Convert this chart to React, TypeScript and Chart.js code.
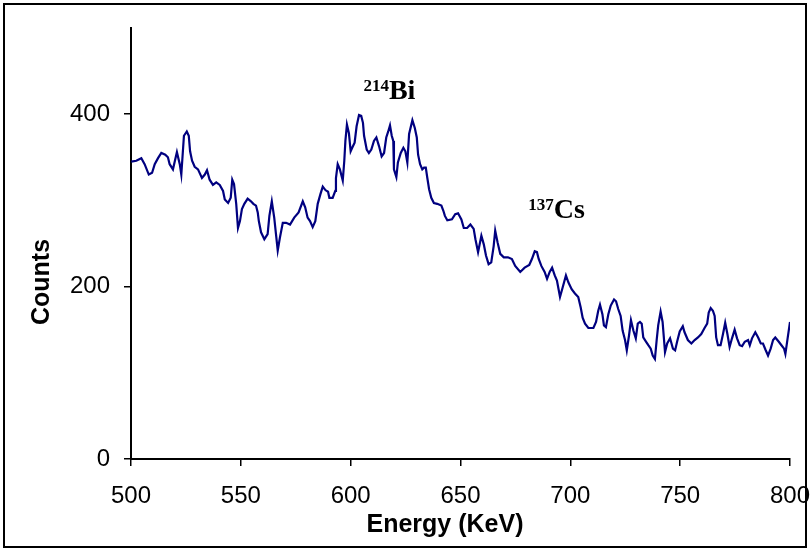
import { useEffect, useRef } from "react";
import { Chart, registerables } from "chart.js";

Chart.register(...registerables);

// Gamma spectrum: energy (keV) and counts per channel
const energies = [
  500.1, 502.4, 504.7, 506.2, 508.1, 509.6, 510.8, 512.3, 513.8, 515.6,
  516.8, 517.6, 519.1, 520.9, 522.2, 522.9, 524.1, 525.4, 526.3, 526.9,
  527.8, 529.0, 530.5, 532.3, 533.6, 534.6, 535.8, 537.3, 538.8, 540.4,
  541.9, 542.7, 544.2, 545.4, 546.1, 546.9, 547.9, 548.7, 549.6, 550.5,
  551.6, 553.1, 554.6, 555.7, 556.9, 557.7, 558.2, 559.2, 560.7, 562.2,
  563.0, 564.1, 565.2, 566.0, 566.8, 567.8, 569.1, 570.6, 572.4, 574.3,
  576.3, 578.2, 579.3, 580.4, 581.5, 582.7, 583.9, 585.0, 586.2, 587.3,
  588.5, 589.7, 590.3, 591.8, 593.0, 593.3, 594.1, 595.1, 596.4, 597.1,
  597.6, 598.3, 599.2, 600.0, 600.7, 601.8, 602.7, 603.8, 604.8, 605.6,
  606.1, 607.3, 608.3, 609.4, 610.6, 611.7, 612.9, 614.1, 615.2, 616.2,
  617.1, 617.9, 618.7, 619.4, 619.7, 620.8, 621.5, 622.8, 624.0, 624.9,
  625.8, 626.6, 628.1, 629.2, 630.1, 630.7, 631.6, 632.6, 633.4, 634.2,
  634.9, 635.7, 636.7, 637.9, 639.4, 641.3, 642.2, 642.9, 644.0, 646.1,
  647.6, 648.9, 650.4, 651.5, 653.0, 654.5, 656.0, 656.8, 658.0, 659.5,
  660.6, 661.6, 662.8, 664.0, 665.1, 665.8, 666.9, 668.1, 669.7, 671.6,
  673.4, 674.9, 677.2, 679.2, 681.3, 682.5, 683.8, 684.8, 685.6, 686.8,
  688.3, 689.4, 690.6, 691.7, 692.9, 693.9, 695.3, 696.5, 698.0, 699.1,
  700.6, 702.1, 703.6, 704.7, 705.6, 706.7, 708.2, 710.5, 711.7, 712.7,
  713.5, 714.6, 715.3, 716.2, 717.3, 718.4, 719.9, 720.8, 721.8, 722.9,
  723.8, 724.9, 725.7, 726.7, 727.6, 728.7, 729.8, 730.7, 731.7, 732.5,
  733.2, 734.5, 735.5, 736.6, 737.5, 738.5, 739.3, 740.0, 741.1, 742.0,
  743.1, 744.1, 745.4, 746.7, 747.7, 748.6, 749.8, 751.2, 752.0, 753.5,
  755.1, 756.6, 758.1, 759.6, 761.1, 762.3, 763.0, 763.9, 764.9, 765.7,
  766.4, 767.2, 768.4, 769.5, 770.5, 771.5, 772.5, 773.6, 774.8, 775.9,
  777.1, 778.2, 779.4, 780.9, 781.7, 782.7, 784.2, 785.5, 786.7, 787.7,
  788.8, 790.0, 791.2, 792.3, 793.3, 794.9, 796.1, 797.3, 797.9, 798.8,
  800.0,
];

const counts = [
  345, 346, 349, 342, 330, 332, 342, 349, 355, 353,
  350, 342, 336, 356, 342, 330, 375, 380, 375, 357,
  346, 339, 336, 326, 330, 335, 324, 318, 321, 318,
  311, 301, 297, 303, 324, 319, 296, 268, 276, 290,
  296, 302, 299, 296, 294, 286, 276, 263, 255, 261,
  282, 299, 280, 261, 242, 257, 274, 274, 272, 280,
  286, 299, 292, 280, 276, 269, 276, 296, 307, 316,
  312, 310, 303, 303, 311, 326, 342, 336, 323, 346,
  369, 388, 378, 357, 361, 367, 386, 399, 398, 390,
  375, 359, 355, 359, 369, 373, 363, 351, 355, 373,
  380, 387, 375, 369, 336, 327, 344, 355, 361, 357,
  344, 377, 393, 384, 373, 353, 342, 336, 338, 338,
  326, 313, 303, 297, 296, 294, 288, 282, 277, 278,
  284, 285, 278, 268, 268, 272, 267, 255, 240, 259,
  249, 236, 226, 228, 247, 265, 251, 238, 234, 234,
  232, 224, 217, 222, 225, 232, 241, 240, 232, 224,
  217, 209, 217, 222, 213, 207, 188, 199, 213, 205,
  197, 192, 188, 176, 164, 157, 152, 152, 159, 172,
  179, 168, 155, 153, 168, 178, 185, 183, 174, 166,
  149, 138, 126, 143, 161, 149, 140, 157, 159, 157,
  141, 136, 132, 128, 120, 116, 138, 155, 171, 159,
  124, 134, 140, 128, 126, 136, 148, 154, 147, 138,
  134, 138, 141, 145, 152, 157, 170, 175, 172, 166,
  141, 132, 132, 145, 158, 145, 130, 140, 150, 140,
  132, 131, 136, 138, 132, 140, 147, 141, 134, 134,
  127, 120, 128, 138, 141, 136, 132, 128, 122, 138,
  159,
];

const xTickValues = [500, 550, 600, 650, 700, 750, 800];
const yTickValues = [0, 200, 400];

const xTitle = "Energy (KeV)";
const yTitle = "Counts";

// Peak labels: mass number, element symbol, anchor (energy, counts)
const peakMass = ["214", "137"];
const peakSymbol = ["Bi", "Cs"];
const peakEnergy = [617.4, 692.5];
const peakCounts = [418, 280];

const SANS = '"Liberation Sans", Arial, sans-serif';
const SERIF = '"Liberation Serif", "Times New Roman", serif';

const frame = {
  id: "frame",
  afterDraw(chart: any) {
    const ctx = chart.ctx;
    ctx.save();
    ctx.strokeStyle = "#000";
    ctx.lineWidth = 2;
    ctx.strokeRect(4, 4, 802, 543);
    ctx.restore();
  },
};

// Axis titles, placed relative to the plot area
const axisTitles = {
  id: "axisTitles",
  afterDraw(chart: any) {
    const ctx = chart.ctx;
    const area = chart.chartArea;
    ctx.save();
    ctx.fillStyle = "#000";
    ctx.font = `bold 25px ${SANS}`;
    ctx.textAlign = "center";
    ctx.textBaseline = "middle";
    ctx.fillText(xTitle, area.left + 314, area.bottom + 66);
    ctx.translate(area.left - 89, area.bottom - 177);
    ctx.rotate(-Math.PI / 2);
    ctx.fillText(yTitle, 0, 0);
    ctx.restore();
  },
};

const peakNames = {
  id: "peakNames",
  afterDatasetsDraw(chart: any) {
    const ctx = chart.ctx;
    const xs = chart.scales.x;
    const ys = chart.scales.y;
    ctx.save();
    ctx.fillStyle = "#000";
    ctx.textBaseline = "alphabetic";
    peakMass.forEach((mass, i) => {
      const px = xs.getPixelForValue(peakEnergy[i]);
      const py = ys.getPixelForValue(peakCounts[i]);
      ctx.font = `bold 17px ${SERIF}`;
      ctx.textAlign = "right";
      ctx.fillText(mass, px, py - 8);
      ctx.font = `bold 28px ${SERIF}`;
      ctx.textAlign = "left";
      ctx.fillText(peakSymbol[i], px, py);
    });
    ctx.restore();
  },
};

export default function App() {
  const ref = useRef<HTMLCanvasElement>(null);

  useEffect(() => {
    if (!ref.current) return;
    const data = energies.map((e, i) => ({ x: e, y: counts[i] }));
    const tickFont = { family: SANS, size: 24 };
    const chart = new Chart(ref.current, {
      type: "line",
      data: {
        datasets: [
          {
            data,
            borderColor: "#000080",
            borderWidth: 2.2,
            pointRadius: 0,
            tension: 0,
            fill: false,
          },
        ],
      },
      options: {
        responsive: false,
        animation: false,
        layout: { padding: { left: 0, top: 28, right: 21, bottom: 0 } },
        plugins: { legend: { display: false }, tooltip: { enabled: false } },
        scales: {
          x: {
            type: "linear",
            min: 500,
            max: 800,
            afterBuildTicks(scale: any) {
              scale.ticks = xTickValues.map((v) => ({ value: v }));
            },
            afterFit(scale: any) {
              scale.height = 91;
              scale.paddingLeft = 0;
              scale.paddingRight = 0;
            },
            border: { color: "#000", width: 2 },
            grid: {
              drawOnChartArea: false,
              drawTicks: true,
              tickLength: 7,
              color: "#000",
              lineWidth: 1.5,
            },
            ticks: { color: "#000", font: tickFont, padding: 16, maxRotation: 0 },
          },
          y: {
            type: "linear",
            min: 0,
            max: 500,
            afterBuildTicks(scale: any) {
              scale.ticks = yTickValues.map((v) => ({ value: v }));
            },
            afterFit(scale: any) {
              scale.width = 131;
              scale.paddingTop = 0;
              scale.paddingBottom = 0;
            },
            border: { color: "#000", width: 2 },
            grid: {
              drawOnChartArea: false,
              drawTicks: true,
              tickLength: 7,
              color: "#000",
              lineWidth: 1.5,
            },
            ticks: { color: "#000", font: tickFont, padding: 14 },
          },
        },
      },
      plugins: [frame, axisTitles, peakNames],
    });
    return () => chart.destroy();
  }, []);

  return (
    <div style={{ position: "fixed", left: 0, top: 0, width: 811, height: 550, background: "#fff" }}>
      <canvas ref={ref} width={811} height={550} style={{ display: "block" }} />
    </div>
  );
}
